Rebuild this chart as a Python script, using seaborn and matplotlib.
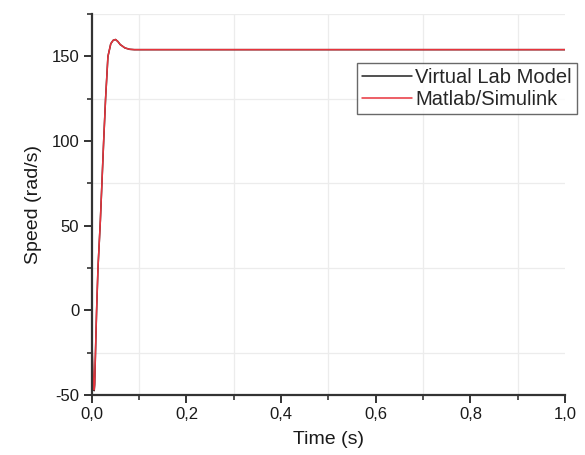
import numpy as np
import pandas as pd
import matplotlib
matplotlib.use("Agg")
import matplotlib.pyplot as plt
import seaborn as sns
from matplotlib.ticker import MultipleLocator, FuncFormatter

# Motor speed response (rad/s) vs time (s)
time_vlab = [0.0, 0.002, 0.004, 0.005, 0.006, 0.008, 0.010, 0.013, 0.018, 0.025,
             0.029, 0.034, 0.040, 0.045, 0.050, 0.055, 0.060, 0.070, 0.080, 0.090,
             0.100, 0.300, 0.600, 1.000]
speed_vlab = [-18.0, -38.0, -46.0, -47.5, -44.0, -22.0, -1.0, 25.0, 53.0, 100.0,
              125.0, 150.0, 157.5, 159.5, 160.0, 158.8, 157.0, 155.0, 154.2, 154.0,
              154.0, 154.0, 154.0, 154.0]

time_sim = [0.0, 0.002, 0.004, 0.005, 0.006, 0.008, 0.010, 0.013, 0.018, 0.025,
            0.029, 0.034, 0.040, 0.045, 0.050, 0.055, 0.060, 0.070, 0.080, 0.090,
            0.100, 0.300, 0.600, 1.000]
speed_sim = [-14.0, -35.0, -45.0, -47.0, -43.0, -21.0, 0.0, 25.5, 53.0, 100.4,
             125.0, 150.0, 157.5, 159.5, 160.0, 158.8, 157.0, 155.0, 154.2, 154.0,
             154.0, 154.0, 154.0, 154.0]

labels = ["Virtual Lab Model", "Matlab/Simulink"]
x_ticks = [0.0, 0.2, 0.4, 0.6, 0.8, 1.0]
y_ticks = [-50, 0, 50, 100, 150]

sns.set_theme(style="ticks")
plt.rcParams["font.family"] = ["Liberation Sans", "DejaVu Sans"]
plt.rcParams["axes.unicode_minus"] = False

fig = plt.figure(figsize=(5.85, 4.55), dpi=100)
ax = fig.add_axes([0.157, 0.132, 0.809, 0.837])

sns.lineplot(x=time_vlab, y=speed_vlab, ax=ax, color="#222222", lw=1.1,
             label=labels[0], estimator=None, sort=False)
sns.lineplot(x=time_sim, y=speed_sim, ax=ax, color="#e8333c", lw=1.1,
             label=labels[1], estimator=None, sort=False)

ax.set_xlim(0, 1.0)
ax.set_ylim(-50, 175)
ax.set_xticks(x_ticks)
ax.set_yticks(y_ticks)
ax.xaxis.set_minor_locator(MultipleLocator(0.1))
ax.yaxis.set_minor_locator(MultipleLocator(25))
ax.xaxis.set_major_formatter(FuncFormatter(lambda v, p: f"{v:.1f}".replace(".", ",")))

ax.grid(which="minor", color="#ececec", linestyle="-", linewidth=0.9)
ax.grid(which="major", visible=False)
ax.set_axisbelow(True)

for side in ("top", "right"):
    ax.spines[side].set_visible(False)
for side in ("left", "bottom"):
    ax.spines[side].set_linewidth(1.6)
    ax.spines[side].set_color("#333333")

ax.tick_params(which="major", direction="out", length=6, width=1.4,
               color="#333333", labelsize=12, labelcolor="#1a1a1a", pad=3)
ax.tick_params(which="minor", direction="out", length=3.5, width=1.2, color="#333333")

ax.set_xlabel("Time (s)", fontsize=14, color="#1a1a1a", labelpad=6)
ax.set_ylabel("Speed (rad/s)", fontsize=14, color="#1a1a1a", labelpad=7)

leg = ax.legend(loc="upper right", bbox_to_anchor=(1.025, 0.872), fontsize=14.5,
                frameon=True, fancybox=False, handlelength=2.5, handletextpad=0.15,
                borderpad=0.25, labelspacing=0.15, borderaxespad=0)
leg.get_frame().set_edgecolor("#444444")
leg.get_frame().set_linewidth(1.0)
for line in leg.get_lines():
    line.set_linewidth(1.1)

fig.savefig("out.png", dpi=100)
